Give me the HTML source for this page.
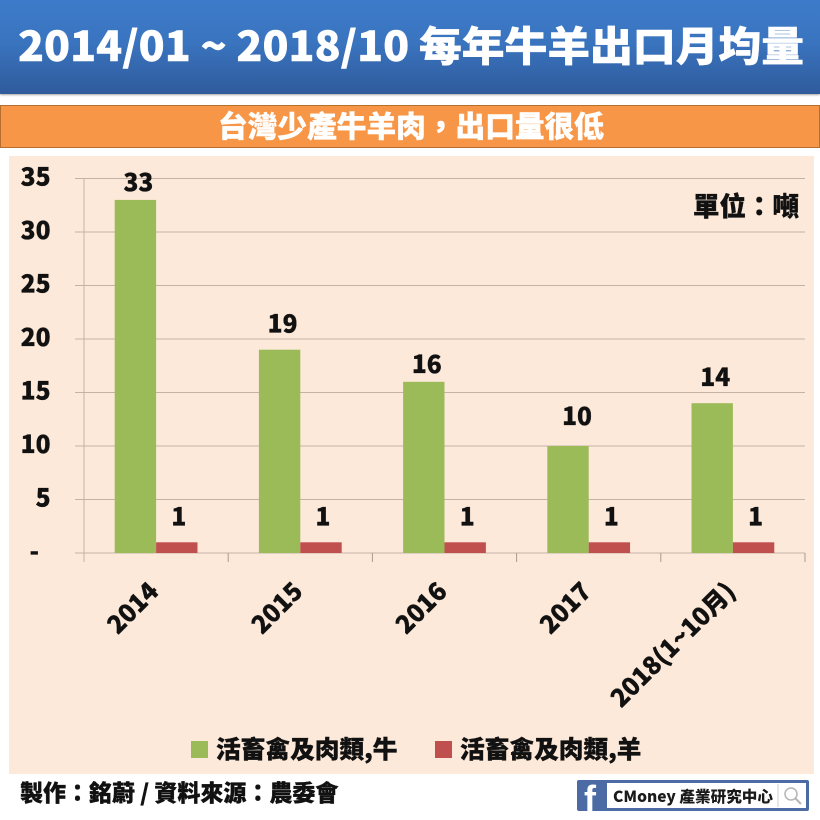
<!DOCTYPE html>
<html lang="zh-Hant">
<head>
<meta charset="utf-8">
<title>每年牛羊出口月均量</title>
<style>
html,body{margin:0;padding:0;background:#fff;}
#stage{position:relative;width:820px;height:820px;overflow:hidden;background:#fff;font-family:"Noto Sans CJK TC","Liberation Sans",sans-serif;font-weight:700;}
#header{position:absolute;left:0;top:0;width:820px;height:94px;background:linear-gradient(#3d7bca 0%,#3a74bf 45%,#2f5b9c 100%);box-shadow:0 1px 2px rgba(0,0,0,.35);}
#subtitle-bar{position:absolute;left:0;top:105px;width:820px;height:43px;box-sizing:border-box;background:#f79646;border:1px solid #b5702f;}
#chart{position:absolute;left:0;top:0;}
text{font-family:"Noto Sans CJK TC","Liberation Sans",sans-serif;font-weight:900;}
.heavy{stroke:#111;stroke-width:.35px;}
.heavy-white{stroke:#fff;stroke-width:.4px;}
</style>
</head>
<body>
<div id="stage">
  <div id="header"></div>
  <div id="subtitle-bar"></div>
  <svg id="chart" width="820" height="820" viewBox="0 0 820 820">
    <text class="heavy-white" x="411" y="61" text-anchor="middle" font-size="41" fill="#fff" textLength="786" lengthAdjust="spacingAndGlyphs">2014/01 ~ 2018/10 每年牛羊出口月均量</text>
    <text class="heavy-white" x="411" y="137" text-anchor="middle" font-size="29.7" fill="#fff">台灣少產牛羊肉，出口量很低</text>
    <rect x="9" y="156" width="805" height="618" fill="#fde9d9"/>
    <g id="grid"></g>
    <g id="y-labels"></g>
    <g id="bars"></g>
    <g id="values"></g>
    <g id="x-labels"></g>
    <text class="heavy" x="799" y="216" text-anchor="end" font-size="26.5" fill="#111">單位：噸</text>
    <rect x="191" y="741" width="17" height="17" fill="#9bbb59"/>
    <text class="heavy" x="216" y="758" font-size="24.7" fill="#111">活畜禽及肉類,牛</text>
    <rect x="435" y="741" width="17" height="17" fill="#c0504d"/>
    <text class="heavy" x="460" y="758" font-size="24.7" fill="#111">活畜禽及肉類,羊</text>
    <text class="heavy" x="20" y="801" font-size="23" fill="#111">製作：銘蔚 / 資料來源：農委會</text>
    <g>
      <rect x="577" y="780" width="232" height="31" rx="2" fill="#4c6ba5"/>
      <rect x="607" y="783" width="199" height="25" fill="#fff"/>
      <text x="584" y="811" font-size="36" fill="#fff" style="font-family:'Liberation Sans',sans-serif">f</text>
      <text x="613" y="802" font-size="15.6" fill="#1a1a1a">CMoney 產業研究中心</text>
      <line x1="778" y1="784" x2="778" y2="807" stroke="#ccc"/>
      <circle cx="791" cy="794" r="6" fill="none" stroke="#b5b5b5" stroke-width="1.5"/>
      <line x1="795" y1="798" x2="801" y2="804" stroke="#b5b5b5" stroke-width="2"/>
    </g>
  </svg>
</div>
<script>
const categories = ['2014', '2015', '2016', '2017', '2018(1~10月)'];
const cattleValues = [33, 19, 16, 10, 14];
const sheepValues = [1, 1, 1, 1, 1];
const yTicks = [0, 5, 10, 15, 20, 25, 30, 35];
const yTickLabels = ['-', '5', '10', '15', '20', '25', '30', '35'];

const NS = 'http://www.w3.org/2000/svg';
const plotLeft = 84, plotRight = 805, plotBottom = 553, plotTop = 178.5, yMax = 35;
const bandWidth = (plotRight - plotLeft) / categories.length;
const barWidth = bandWidth * 0.287;
const cattleLabelGaps = [9, 17, 9, 21, 17];
const cattleLabelNudges = [3, 3, 3, 9, 3];
function yScale(v) { return plotBottom - (v / yMax) * (plotBottom - plotTop); }
function xBand(i) { return plotLeft + bandWidth * i; }
function xCenter(i) { return xBand(i) + bandWidth / 2; }
function make(tag, attrs, parent, text) {
  const el = document.createElementNS(NS, tag);
  for (const k in attrs) el.setAttribute(k, attrs[k]);
  if (text !== undefined) el.textContent = text;
  parent.appendChild(el);
  return el;
}
const gridG = document.getElementById('grid');
const yLabelG = document.getElementById('y-labels');
const barG = document.getElementById('bars');
const valueG = document.getElementById('values');
const xLabelG = document.getElementById('x-labels');

yTicks.forEach(function (t, i) {
  const line = make('line', {x1: 75, x2: plotRight, y1: yScale(t), y2: yScale(t), stroke: '#c4b2a6', 'stroke-width': 1}, gridG);
  
  
  const labelX = t === 0 ? 39 : 50.5;
  const label = make('text', {class: 'heavy', x: labelX, y: yScale(t) + 7, 'text-anchor': 'end', 'font-size': 24.5, fill: '#111'}, yLabelG, yTickLabels[i]);
  
  
});

const yAxis = make('line', {x1: plotLeft, x2: plotLeft, y1: plotTop, y2: 562, stroke: '#c4b2a6', 'stroke-width': 1}, gridG);



categories.forEach(function (c, i) {
  const tick = make('line', {x1: xBand(i + 1), x2: xBand(i + 1), y1: plotBottom, y2: 562, stroke: '#a89a90', 'stroke-width': 1}, gridG);
  
  

  const cx = xCenter(i);
  const cattleY = yScale(cattleValues[i]);
  const sheepY = yScale(sheepValues[i]);
  const cattleBar = make('rect', {x: cx - barWidth, y: cattleY, width: barWidth, height: plotBottom - cattleY, fill: '#9bbb59'}, barG);
  
  
  const sheepBar = make('rect', {x: cx, y: sheepY, width: barWidth, height: plotBottom - sheepY, fill: '#c0504d'}, barG);
  
  

  const cattleValue = make('text', {class: 'heavy', x: cx - barWidth / 2 + cattleLabelNudges[i], y: cattleY - cattleLabelGaps[i], 'text-anchor': 'middle', 'font-size': 24.5, fill: '#111'}, valueG, String(cattleValues[i]));
  
  
  const sheepValue = make('text', {class: 'heavy', x: cx + barWidth / 2 + 2, y: sheepY - 17, 'text-anchor': 'middle', 'font-size': 24.5, fill: '#111'}, valueG, String(sheepValues[i]));
  
  

  const ax = cx + 4, ay = 593;
  const catLabel = make('text', {class: 'heavy', x: ax, y: ay, 'text-anchor': 'end', 'font-size': 24.5, fill: '#111', transform: 'rotate(-45 ' + ax + ' ' + ay + ')'}, xLabelG, c);
  
  
});
</script>
</body>
</html>
